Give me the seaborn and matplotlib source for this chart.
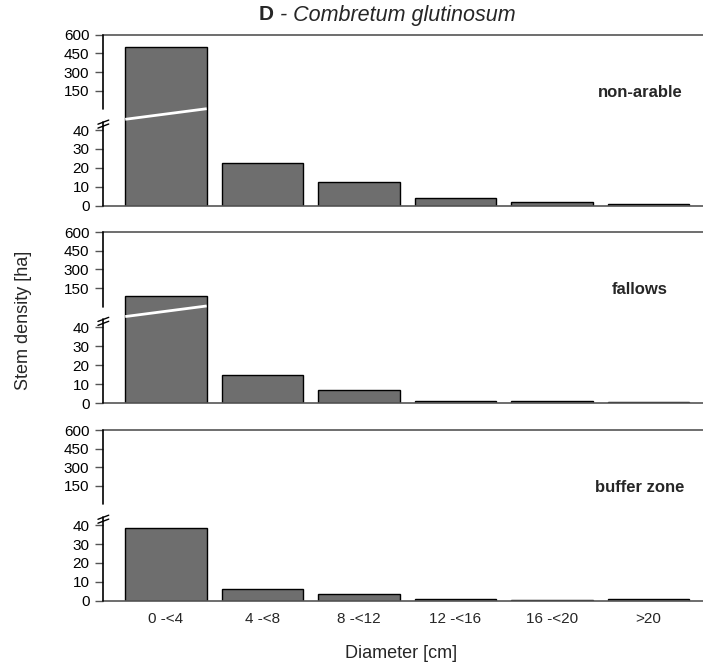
import numpy as np
import pandas as pd
import matplotlib
matplotlib.use("Agg")
import matplotlib.pyplot as plt
import matplotlib.transforms as mtransforms
import seaborn as sns

# ---- data ----
categories = ["0 -<4", "4 -<8", "8 -<12", "12 -<16", "16 -<20", ">20"]
non_arable = [500, 22.7, 12.4, 4.2, 2.1, 0.7]
fallows = [85, 14.6, 7.1, 1.3, 0.9, 0.3]
buffer_zone = [38.7, 6.0, 3.4, 0.7, 0.2, 0.7]
panel_names = ["non-arable", "fallows", "buffer zone"]
lower_ticks = [0, 10, 20, 30, 40]
upper_ticks = [150, 300, 450, 600]

sns.set_style("white")
plt.rcParams["font.family"] = ["Liberation Sans", "DejaVu Sans"]

# ---- broken-axis scale (lower 0-40, upper 0-600 compressed) ----
LOW = 40.0
GAPV = 60.0
U0 = 50.9
K = 39.5 / 600.0
GAPD = U0 + GAPV * K
TOP = U0 + 600 * K


def fwd(v):
    v = np.asarray(v, dtype=float)
    return np.where(v <= LOW, v,
                    np.where(v <= GAPV, LOW + (v - LOW) * (GAPD - LOW) / (GAPV - LOW),
                             U0 + v * K))


def inv(d):
    d = np.asarray(d, dtype=float)
    return np.where(d <= LOW, d,
                    np.where(d <= GAPD, LOW + (d - LOW) * (GAPV - LOW) / (GAPD - LOW),
                             (d - U0) / K))


fig = plt.figure(figsize=(7.03, 6.69), dpi=100)

positions = [(0.147, 0.6925, 0.853, 0.2555),
             (0.147, 0.3976, 0.853, 0.2556),
             (0.147, 0.1021, 0.853, 0.2551)]
series = [non_arable, fallows, buffer_zone]

for i, (pos, vals, name) in enumerate(zip(positions, series, panel_names)):
    ax = fig.add_axes(pos)
    df = pd.DataFrame({"Diameter": categories, "Density": vals})
    sns.barplot(data=df, x="Diameter", y="Density", ax=ax, color="#6e6e6e",
                saturation=1, edgecolor="black", linewidth=1.0, width=0.844,
                errorbar=None)
    ax.set_yscale("function", functions=(fwd, inv))
    ax.set_ylim(0, 600)
    ax.set_xlim(-0.649, 5.566)
    ticks = lower_ticks + upper_ticks
    ax.set_yticks(ticks)
    ax.set_yticklabels([str(t) for t in ticks])
    ax.yaxis.set_minor_locator(matplotlib.ticker.NullLocator())
    ax.tick_params(axis="y", left=True, length=6, width=1, color="#555555",
                   pad=4, labelsize=11, labelcolor="black")
    ax.set_xlabel("")
    ax.set_ylabel("")
    if i < 2:
        ax.tick_params(axis="x", length=0, labelbottom=False)
    else:
        ax.tick_params(axis="x", length=0, pad=8, labelsize=11)

    ax.spines["left"].set_visible(False)
    ax.spines["right"].set_visible(False)
    ax.spines["top"].set_color("#555555")
    ax.spines["bottom"].set_color("#555555")
    ax.spines["top"].set_linewidth(1.2)
    ax.spines["bottom"].set_linewidth(1.2)

    # custom left spine with break
    ax.plot([0, 0], [0, 0.49], transform=ax.transAxes, color="black",
            lw=1.2, clip_on=False, zorder=5)
    ax.plot([0, 0], [0.564, 1.0], transform=ax.transAxes, color="black",
            lw=1.2, clip_on=False, zorder=5)
    dx = 0.009
    for yc in (0.466, 0.489):
        ax.plot([-dx, dx], [yc - 0.012, yc + 0.012], transform=ax.transAxes,
                color="black", lw=1.0, clip_on=False, zorder=6)

    # white break line across bars that exceed the lower range
    blend = mtransforms.blended_transform_factory(ax.transData, ax.transAxes)
    for j, v in enumerate(vals):
        if v > LOW:
            ax.plot([j - 0.422, j + 0.422], [45.7 / TOP, 51.3 / TOP],
                    transform=blend, color="white", lw=2.0, zorder=7,
                    solid_capstyle="butt")

    ax.text(0.895, 0.665, name, transform=ax.transAxes, ha="center",
            va="center", fontsize=12, fontweight="bold")

fig.text(259 / 703, 1 - 15 / 669, "D", fontsize=15, fontweight="bold",
         ha="left", va="center")
fig.text(280 / 703, 1 - 15 / 669, "- Combretum glutinosum", fontsize=15.5,
         fontstyle="italic", ha="left", va="center")
fig.text(24 / 703, 1 - 320 / 669, "Stem density [ha]", rotation=90,
         fontsize=13, ha="center", va="center")
fig.text(401 / 703, 1 - 654 / 669, "Diameter [cm]", fontsize=13,
         ha="center", va="center")

fig.savefig("out.png", dpi=100)
